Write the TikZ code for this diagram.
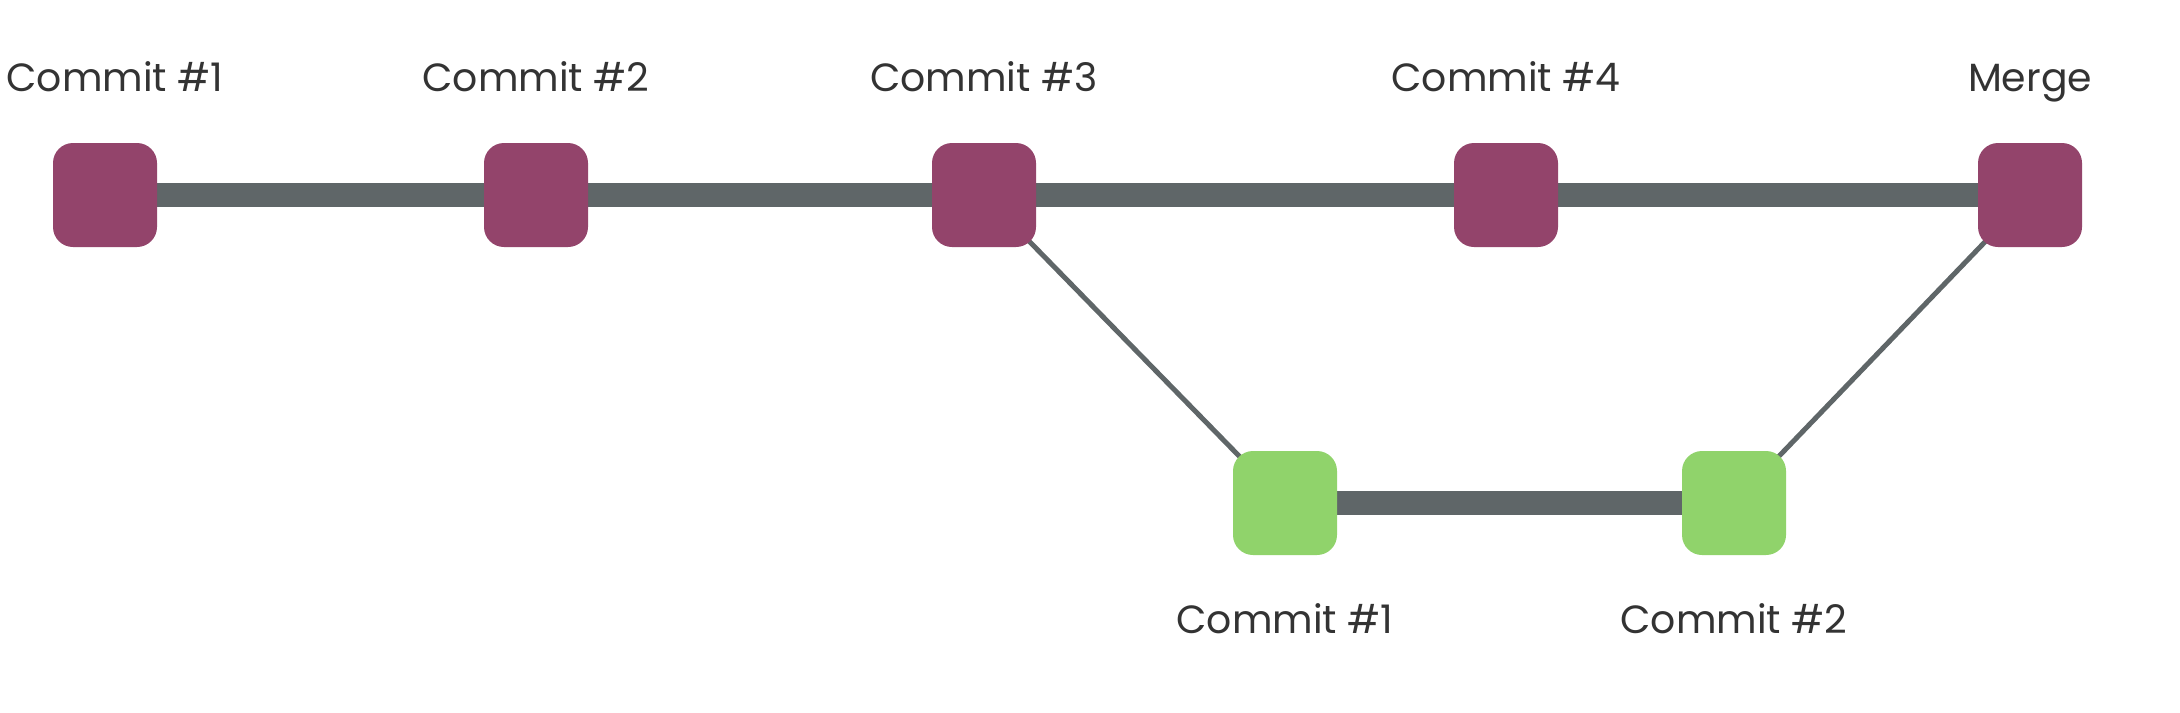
\documentclass[tikz,border=0pt]{standalone}
\usepackage{fontspec}
\setmainfont{Poppins}
\usetikzlibrary{positioning,backgrounds}
\definecolor{ink}{HTML}{333333}
\definecolor{mainc}{HTML}{93446B}
\definecolor{featc}{HTML}{90D36B}
\definecolor{rail}{HTML}{5F6668}

\begin{document}
\begin{tikzpicture}[
    commit/.style={fill=mainc, draw=none, rounded corners=2mm,
      minimum width=10.4mm, minimum height=10.4mm, inner sep=0pt},
    feat/.style={commit, fill=featc},
    tag/.style={font=\fontsize{11.2}{13}\selectfont, text=ink, inner sep=0pt,
      text height=1.6ex, text depth=0.3ex},
    trunk/.style={draw=rail, line width=2.4mm},
    fork/.style={draw=rail, line width=0.5mm},
  ]
  \useasboundingbox (0,0) rectangle (21.8,7.12);

  % ---------------------------------------------------------------- main line
  \node[commit] (m1) at (1.05,5.17) {};
  \node[commit] (m2) at (5.36,5.17) {};
  \node[commit] (m3) at (9.84,5.17) {};
  \node[commit] (m4) at (15.06,5.17) {};
  \node[commit] (merge) at (20.30,5.17) {};

  % ------------------------------------------------------------ feature line
  \node[feat] (f1) at (12.85,2.09) {};
  \node[feat] (f2) at (17.34,2.09) {};

  % ------------------------------------------------------------------ labels
  \node[tag, above=4.4mm of m1, xshift=1mm] (lm1) {Commit \#1};
  \node[tag, above=4.4mm of m2] (lm2) {Commit \#2};
  \node[tag, above=4.4mm of m3] (lm3) {Commit \#3};
  \node[tag, above=4.4mm of m4] (lm4) {Commit \#4};
  \node[tag, above=4.4mm of merge] (lmerge) {Merge};
  \node[tag, below=4.6mm of f1] (lf1) {Commit \#1};
  \node[tag, below=4.6mm of f2] (lf2) {Commit \#2};

  % ------------------------------------------------------------------ arrows
  \begin{scope}[on background layer]
    \draw[trunk] (m1.center) -- (m2.center) -- (m3.center) -- (m4.center) -- (merge.center);
    \draw[trunk] (f1.center) -- (f2.center);
    \draw[fork] (m3.center) -- (f1.center);
    \draw[fork] (f2.center) -- (merge.center);
  \end{scope}
\end{tikzpicture}
\end{document}
